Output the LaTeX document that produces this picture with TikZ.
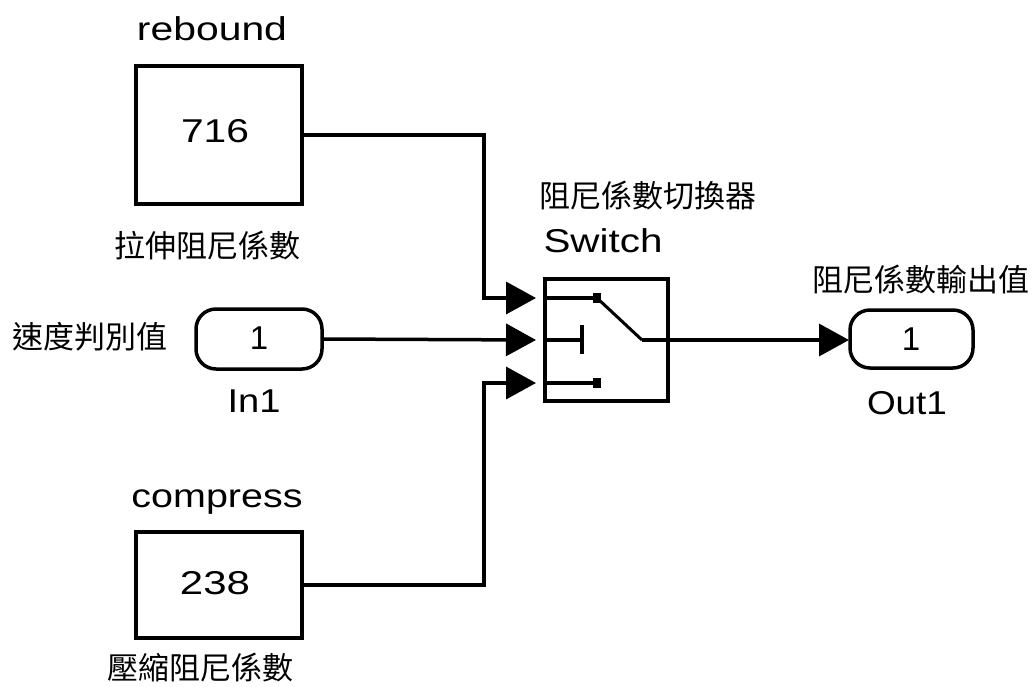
\documentclass[tikz,border=0pt]{standalone}
\usepackage{fontspec}
\setmainfont{Liberation Sans}
\newfontfamily\cjk{Noto Sans CJK TC}
\usetikzlibrary{arrows.meta}
\newcommand\pix[2]{\resizebox{#1}{\height}{#2}}
\begin{document}
\begin{tikzpicture}[x=1pt,y=-1pt,
  blk/.style={draw,line width=3.5pt,inner sep=0pt},
  oval/.style={draw,line width=3.5pt,rounded corners=20pt,inner sep=0pt},
  wire/.style={line width=3.5pt},
  sig/.style={wire,-{Triangle[length=30pt,width=32pt]}},
  lat/.style={inner sep=0pt,anchor=base,font=\fontsize{33}{33}\selectfont},
  cj/.style={inner sep=0pt,font=\cjk\fontsize{31}{31}\selectfont},
  dot/.style={fill=black,inner sep=0pt,minimum width=8pt,minimum height=10pt},
]
\useasboundingbox (0,0) rectangle (1036,686);
% blocks
\node[blk,minimum width=166pt,minimum height=138pt] (reb) at (219,135) {};
\node[blk,minimum width=166pt,minimum height=106pt] (cmp) at (219,585) {};
\node[oval,minimum width=126pt,minimum height=60pt] (in) at (259,339) {};
\node[blk,minimum width=123pt,minimum height=122pt] (sw) at (606.5,340) {};
\node[oval,minimum width=123pt,minimum height=58pt] (out) at (911.5,339) {};
% block texts
\node[lat] (rebv) at (215,142) {\pix{68pt}{716}};
\node[lat] (cmpv) at (215,594) {\pix{70pt}{238}};
\node[lat] (inv) at (259,349) {1};
\node[lat] (outv) at (911,350) {1};
% labels
\node[lat] (rebl) at (212,40) {\pix{150pt}{rebound}};
\node[cj] (rebc) at (207,245) {拉伸阻尼係數};
\node[cj] (inc) at (90,337) {速度判別值};
\node[lat] (inl) at (254,412) {\pix{53pt}{In1}};
\node[lat] (cmpl) at (217,507) {\pix{171pt}{compress}};
\node[cj] (cmpc) at (200,667) {壓縮阻尼係數};
\node[cj] (swc) at (648,195) {阻尼係數切換器};
\node[lat] (swl) at (603,252) {\pix{119pt}{Switch}};
\node[cj] (outc) at (921,279) {阻尼係數輸出值};
\node[lat] (outl) at (907,414) {\pix{80pt}{Out1}};
% switch icon
\coordinate (s1) at (545,298);
\coordinate (s2) at (545,340);
\coordinate (s3) at (545,383);
\node[dot] (d1) at (597,298) {};
\node[dot] (d3) at (597,383) {};
\coordinate (bar) at (582,340);
\coordinate (piv) at (642,340);
\draw[wire] (s1) -- (d1.center);
\draw[wire] (s2) -- (bar);
\draw[wire] (582,325) -- (582,354);
\draw[wire] (s3) -- (d3.center);
\draw[line width=3pt] (d1.center) -- (piv);
\draw[wire] (piv) -- (sw.east);
% connectors
\coordinate (p1) at (536,298);
\coordinate (p2) at (536,340);
\coordinate (p3) at (536,383);
\coordinate (po) at (849,340);
\coordinate (b1) at (484,298);
\coordinate (b3) at (484,383);
\draw[sig] (reb.east) -| (b1) -- (p1);
\draw[sig] (in.east) -- (p2);
\draw[sig] (cmp.east) -| (b3) -- (p3);
\draw[sig] (sw.east) -- (po);
\end{tikzpicture}
\end{document}
